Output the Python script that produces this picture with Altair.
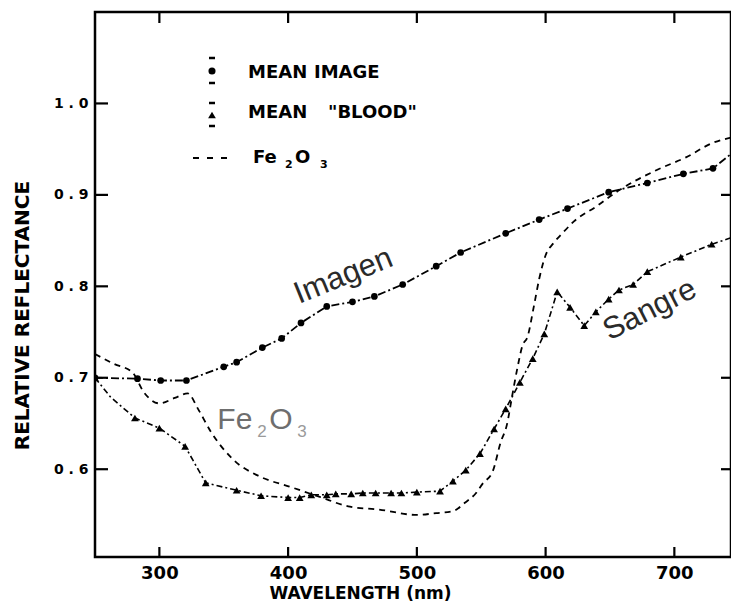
import altair as alt
import pandas as pd

# ---- data ----
img_x = [250, 283, 301, 321, 350, 360, 380, 395, 410, 430, 450, 467, 489, 515, 534, 569, 595, 617, 649, 679, 707, 730, 746]
img_y = [0.700, 0.699, 0.697, 0.697, 0.712, 0.717, 0.733, 0.743, 0.760, 0.778, 0.783, 0.789, 0.802, 0.822, 0.837, 0.858, 0.873, 0.885, 0.903, 0.913, 0.923, 0.929, 0.947]

blood_x = [250, 262, 281, 300, 320, 336, 360, 379, 400, 409, 418, 430, 437, 449, 458, 468, 480, 488, 500, 518, 528, 538, 549, 560, 569, 580, 590, 599, 609, 619, 630, 639, 649, 657, 668, 679, 705, 729, 748]
blood_y = [0.700, 0.679, 0.656, 0.645, 0.625, 0.585, 0.577, 0.571, 0.569, 0.569, 0.572, 0.572, 0.573, 0.573, 0.574, 0.574, 0.574, 0.574, 0.575, 0.576, 0.587, 0.599, 0.617, 0.644, 0.666, 0.695, 0.721, 0.748, 0.794, 0.777, 0.757, 0.772, 0.786, 0.796, 0.802, 0.816, 0.832, 0.846, 0.855]
blood_mark = [True, False, True, True, True, True, True, True, True, True, True, True, True, True, True, True, True, True, True, True, True, True, True, True, True, True, True, True, True, True, True, True, True, True, True, True, True, True, False]

fe_x = [250, 265, 279, 288, 300, 312, 322, 330, 340, 357, 378, 401, 424, 448, 470, 500, 515, 528, 537, 546, 551, 559, 565, 570, 574, 578, 582, 586, 591, 595, 600, 606, 613, 622, 639, 657, 686, 709, 730, 749]
fe_y = [0.726, 0.715, 0.706, 0.684, 0.672, 0.678, 0.683, 0.666, 0.641, 0.611, 0.592, 0.581, 0.570, 0.559, 0.556, 0.550, 0.552, 0.554, 0.563, 0.574, 0.584, 0.598, 0.629, 0.649, 0.680, 0.710, 0.735, 0.745, 0.779, 0.808, 0.834, 0.847, 0.858, 0.871, 0.887, 0.905, 0.927, 0.941, 0.957, 0.964]

x_ticks = [300, 400, 500, 600, 700]
y_ticks = [0.6, 0.7, 0.8, 0.9, 1.0]
x_domain = [250, 744]
y_domain = [0.504, 1.1]

W, H = 636, 545
FONT = "DejaVu Sans"

img_df = pd.DataFrame({"x": img_x, "y": img_y})
blood_df = pd.DataFrame({"x": blood_x, "y": blood_y, "m": blood_mark})
fe_df = pd.DataFrame({"x": fe_x, "y": fe_y})

xs = alt.Scale(domain=x_domain, nice=False, zero=False)
ys = alt.Scale(domain=y_domain, nice=False, zero=False)

X = alt.X("x:Q", scale=xs, axis=alt.Axis(
    values=x_ticks, ticks=False, tickSize=0, domain=False, grid=False,
    labelFont=FONT, labelFontWeight="bold", labelFontSize=18, labelColor="black",
    labelPadding=7, format="d",
    title="WAVELENGTH (nm)", titleFont=FONT, titleFontWeight="bold", titleFontSize=17,
    titleColor="black", titleX=265, titleY=36, titleAlign="center", titleBaseline="middle"))
Y = alt.Y("y:Q", scale=ys, axis=alt.Axis(
    values=y_ticks, ticks=False, tickSize=0, domain=False, grid=False,
    labelFont=FONT, labelFontWeight="bold", labelFontSize=14, labelColor="black",
    labelPadding=7, format=".1f", labelExpr="replace(datum.label, '.', ' . ')",
    title="RELATIVE REFLECTANCE", titleFont=FONT, titleFontWeight="bold", titleFontSize=20,
    titleColor="black", titleX=-73, titleY=303, titleAngle=270, titleAlign="center",
    titleBaseline="middle"))

XF = alt.X("x:Q", scale=xs)
YF = alt.Y("y:Q", scale=ys)

img_line = alt.Chart(img_df).mark_line(color="black", strokeWidth=1.8, strokeDash=[8, 3, 2, 3], clip=True).encode(x=X, y=Y)
img_pts = alt.Chart(img_df).mark_point(shape="circle", filled=True, size=45, color="black", opacity=1, clip=True).encode(x=XF, y=YF)

blood_line = alt.Chart(blood_df).mark_line(color="black", strokeWidth=1.6, strokeDash=[6, 3, 2, 3], clip=True).encode(x=XF, y=YF)
blood_pts = alt.Chart(blood_df).transform_filter("datum.m").mark_point(
    shape="triangle-up", filled=True, size=60, color="black", opacity=1, clip=True).encode(x=XF, y=YF)

fe_line = alt.Chart(fe_df).mark_line(color="black", strokeWidth=1.8, strokeDash=[6, 5], interpolate="monotone", clip=True).encode(x=XF, y=YF)

# inward tick marks on all four sides, built from the tick lists as short 2-point segments
px_per_y = H / (y_domain[1] - y_domain[0])
px_per_x = W / (x_domain[1] - x_domain[0])
rows = []
for i, t in enumerate(x_ticks):
    rows += [{"x": t, "y": y_domain[0], "g": f"b{i}"}, {"x": t, "y": y_domain[0] + 10 / px_per_y, "g": f"b{i}"}]
    rows += [{"x": t, "y": y_domain[1], "g": f"t{i}"}, {"x": t, "y": y_domain[1] - 11 / px_per_y, "g": f"t{i}"}]
for i, t in enumerate(y_ticks):
    rows += [{"x": x_domain[0], "y": t, "g": f"l{i}"}, {"x": x_domain[0] + 13 / px_per_x, "y": t, "g": f"l{i}"}]
    rows += [{"x": x_domain[1], "y": t, "g": f"r{i}"}, {"x": x_domain[1] - 10 / px_per_x, "y": t, "g": f"r{i}"}]
ticks_df = pd.DataFrame(rows)
ticks = alt.Chart(ticks_df).mark_line(color="black", strokeWidth=2.2).encode(
    x=XF, y=YF, detail="g:N", order=alt.Order("y:Q"))

# annotations in data coordinates
def txt(s, x, y, size, color, angle=0, align="center", baseline="middle", dx=0, dy=0, weight="normal", font="Liberation Sans"):
    return alt.Chart(pd.DataFrame({"x": [x], "y": [y], "t": [s]})).mark_text(
        text=s, fontSize=size, color=color, angle=angle, align=align, baseline=baseline,
        dx=dx, dy=dy, font=font, fontWeight=weight).encode(x=XF, y=YF)

ann = [
    txt("Imagen", 443, 0.811, 31, "#2a2a2a", angle=338),
    txt("Sangre", 681, 0.774, 31, "#2a2a2a", angle=333),
    txt("Fe", 345, 0.6436, 30, "#6e6e6e", align="left", baseline="alphabetic"),
    txt("2", 345, 0.6436, 17, "#9a9a9a", align="left", baseline="alphabetic", dx=40, dy=8),
    txt("O", 345, 0.6436, 30, "#6e6e6e", align="left", baseline="alphabetic", dx=52),
    txt("3", 345, 0.6436, 17, "#9a9a9a", align="left", baseline="alphabetic", dx=80, dy=8),
]

# legend (pixel positions inside the plot)
one = pd.DataFrame({"a": [0]})
def ptxt(s, x, y, size, weight="bold"):
    return alt.Chart(one).mark_text(text=s, fontSize=size, font=FONT, fontWeight=weight,
                                    color="black", align="left", baseline="middle").encode(
        x=alt.value(x), y=alt.value(y))

def rule(x1, x2, y, w=2.5, dash=None):
    kw = dict(color="black", strokeWidth=w)
    if dash:
        kw["strokeDash"] = dash
    return alt.Chart(one).mark_rule(**kw).encode(x=alt.value(x1), x2=alt.value(x2), y=alt.value(y))

legend = [
    alt.Chart(one).mark_point(shape="circle", filled=True, size=50, color="black", opacity=1).encode(
        x=alt.value(117), y=alt.value(59)),
    rule(114, 120, 46), rule(114, 120, 71),
    ptxt("MEAN", 153, 61, 18), ptxt("IMAGE", 219, 61, 18),
    alt.Chart(one).mark_point(shape="triangle-up", filled=True, size=60, color="black", opacity=1).encode(
        x=alt.value(117), y=alt.value(103)),
    rule(114, 120, 91), rule(114, 120, 114),
    ptxt("MEAN", 153, 101, 18), ptxt('"BLOOD"', 233, 101, 18),
    rule(98, 136, 146, w=2, dash=[6, 8]),
    ptxt("Fe", 158, 146, 18),
    alt.Chart(one).mark_text(text="2", fontSize=11, font=FONT, fontWeight="bold", color="black",
                             align="left", baseline="middle").encode(x=alt.value(190), y=alt.value(153)),
    ptxt("O", 200, 146, 18),
    alt.Chart(one).mark_text(text="3", fontSize=11, font=FONT, fontWeight="bold", color="black",
                             align="left", baseline="middle").encode(x=alt.value(225), y=alt.value(153)),
]

chart = alt.layer(
    img_line, fe_line, blood_line, img_pts, blood_pts, ticks, *ann, *legend
).properties(
    width=W, height=H,
    autosize=alt.AutoSizeParams(type="none"),
    padding={"left": 87, "top": 4, "right": 0, "bottom": 47},
    background="white",
).configure_view(stroke="black", strokeWidth=2.5)

chart.save("out.html", embed_options={"renderer": "svg", "actions": False})
